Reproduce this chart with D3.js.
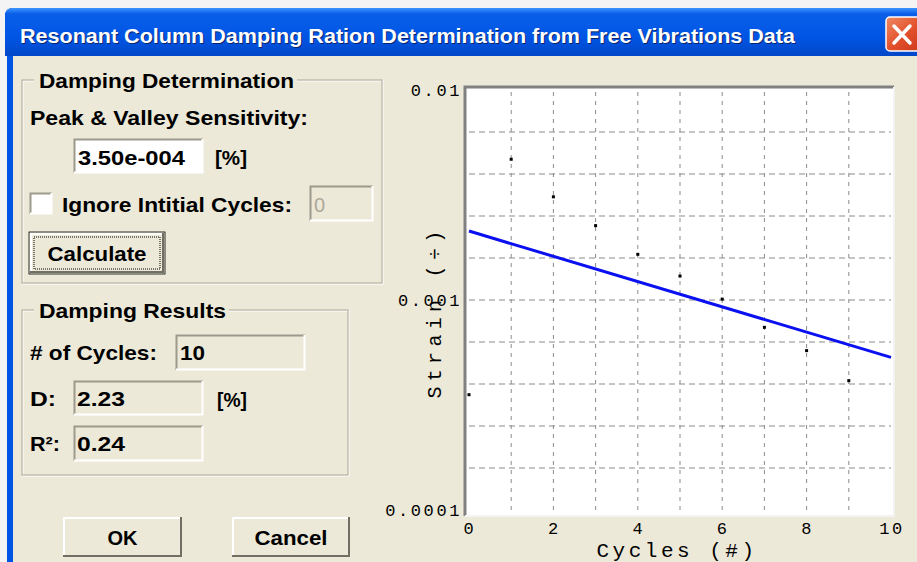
<!DOCTYPE html>
<html>
<head>
<meta charset="utf-8">
<script src="https://cdn.jsdelivr.net/npm/d3@7/dist/d3.min.js"></script>
<style>
body { margin: 0; background: #fff; }
svg { display: block; }
</style>
</head>
<body>
<script>

// free vibration peaks
var cycles = [0, 1, 2, 3, 4, 5, 6, 7, 8, 9];
var strainPeaks = [3.54e-4, 4.68e-3, 3.10e-3, 2.26e-3, 1.65e-3, 1.30e-3, 1.01e-3, 7.41e-4, 5.74e-4, 4.13e-4];

// fitted exponential decay (end points)
var fitCycles = [0, 10];
var fitStrain = [2.13e-3, 5.33e-4];

var xTicks = [0, 2, 4, 6, 8, 10];
var yTicks = [0.01, 0.001, 0.0001];
var yTickLabels = ["0.01", "0.001", "0.0001"];
var xGrid = [1, 2, 3, 4, 5, 6, 7, 8, 9];
var yGridExp = [-2.2, -2.4, -2.6, -2.8, -3, -3.2, -3.4, -3.6, -3.8];

var results = { cycles: "10", D: "2.23", R2: "0.24" };
var sensitivity = "3.50e-004";

var BG = "#ece9d8";
var UIFONT = "'Liberation Sans', Arial, sans-serif";
var MONO = "'Liberation Mono', 'Courier New', monospace";

var svg = d3.select("body").append("svg")
    .attr("width", 917)
    .attr("height", 562);

var defs = svg.append("defs");
var grad = defs.append("linearGradient").attr("id", "titleGrad")
    .attr("x1", 0).attr("y1", 0).attr("x2", 0).attr("y2", 1);
grad.append("stop").attr("offset", "0%").attr("stop-color", "#3d95ff");
grad.append("stop").attr("offset", "12%").attr("stop-color", "#0a5fe8");
grad.append("stop").attr("offset", "60%").attr("stop-color", "#0055e5");
grad.append("stop").attr("offset", "100%").attr("stop-color", "#0148c8");

var closeGrad = defs.append("linearGradient").attr("id", "closeGrad")
    .attr("x1", 0).attr("y1", 0).attr("x2", 1).attr("y2", 1);
closeGrad.append("stop").attr("offset", "0%").attr("stop-color", "#f08a64");
closeGrad.append("stop").attr("offset", "50%").attr("stop-color", "#e2512b");
closeGrad.append("stop").attr("offset", "100%").attr("stop-color", "#c8341a");

// window frame
svg.append("rect").attr("x", 0).attr("y", 0).attr("width", 917).attr("height", 562).attr("fill", "#f4f4f4");
svg.append("path")
    .attr("d", "M5,55 L5,16 Q5,8 13,8 L917,8 L917,562 L7,562 L7,55 Z")
    .attr("fill", "#0055e5");
svg.append("path")
    .attr("d", "M5,55 L5,16 Q5,8 13,8 L917,8 L917,56 L5,56 Z")
    .attr("fill", "url(#titleGrad)");
svg.append("rect").attr("x", 13).attr("y", 56).attr("width", 904).attr("height", 506).attr("fill", BG);

// title
var title = "Resonant Column Damping Ration Determination from Free Vibrations Data";
svg.append("text")
    .attr("x", 21).attr("y", 44)
    .attr("fill", "#0a246a")
    .attr("font-family", UIFONT).attr("font-weight", "bold").attr("font-size", 20)
    .attr("textLength", 775).attr("lengthAdjust", "spacingAndGlyphs")
    .text(title);
svg.append("text")
    .attr("x", 20).attr("y", 43)
    .attr("fill", "#fff")
    .attr("font-family", UIFONT).attr("font-weight", "bold").attr("font-size", 20)
    .attr("textLength", 775).attr("lengthAdjust", "spacingAndGlyphs")
    .text(title);

// close button
svg.append("rect").attr("x", 886).attr("y", 17).attr("width", 40).attr("height", 34)
    .attr("rx", 4).attr("fill", "url(#closeGrad)").attr("stroke", "#fff").attr("stroke-width", 1.5);
svg.append("path").attr("d", "M894,26 L910,43 M910,26 L894,43")
    .attr("stroke", "#fff").attr("stroke-width", 3.5).attr("stroke-linecap", "round");

// helpers
function label(x, y, t, opts) {
    opts = opts || {};
    var el = svg.append("text").attr("x", x).attr("y", y)
        .attr("font-family", UIFONT).attr("font-weight", "bold").attr("font-size", opts.size || 21)
        .attr("fill", opts.fill || "#000").text(t);
    if (opts.anchor) el.attr("text-anchor", opts.anchor);
    if (opts.len) el.attr("textLength", opts.len).attr("lengthAdjust", "spacingAndGlyphs");
    return el;
}

function groupBox(x, y, w, h, t, labelW) {
    svg.append("rect").attr("x", x + 1).attr("y", y + 1).attr("width", w).attr("height", h)
        .attr("fill", "none").attr("stroke", "#fff");
    svg.append("rect").attr("x", x).attr("y", y).attr("width", w).attr("height", h)
        .attr("fill", "none").attr("stroke", "#aca899");
    svg.append("rect").attr("x", x + 12).attr("y", y - 10).attr("width", labelW + 8).attr("height", 20)
        .attr("fill", BG);
    label(x + 17, y + 8, t, { len: labelW });
}

function sunken(x, y, w, h, fill) {
    svg.append("rect").attr("x", x).attr("y", y).attr("width", w).attr("height", h).attr("fill", fill);
    svg.append("path").attr("d", "M" + (x + 0.5) + "," + (y + h) + " L" + (x + 0.5) + "," + (y + 0.5) + " L" + (x + w) + "," + (y + 0.5))
        .attr("fill", "none").attr("stroke", "#9c9a8c").attr("stroke-width", 2);
    svg.append("path").attr("d", "M" + (x + w - 0.5) + "," + y + " L" + (x + w - 0.5) + "," + (y + h - 0.5) + " L" + x + "," + (y + h - 0.5))
        .attr("fill", "none").attr("stroke", "#fff").attr("stroke-width", 2);
}

function button(x, y, w, h, t, len, focused) {
    svg.append("rect").attr("x", x).attr("y", y).attr("width", w).attr("height", h).attr("fill", BG);
    svg.append("path").attr("d", "M" + (x + 1) + "," + (y + h) + " L" + (x + 1) + "," + (y + 1) + " L" + (x + w) + "," + (y + 1))
        .attr("fill", "none").attr("stroke", "#fff").attr("stroke-width", 2);
    svg.append("path").attr("d", "M" + (x + w - 1) + "," + y + " L" + (x + w - 1) + "," + (y + h - 1) + " L" + x + "," + (y + h - 1))
        .attr("fill", "none").attr("stroke", "#716f64").attr("stroke-width", 2);
    if (focused) {
        svg.append("rect").attr("x", x - 1).attr("y", y - 1).attr("width", w + 2).attr("height", h + 2)
            .attr("fill", "none").attr("stroke", "#000").attr("stroke-width", 0.8);
        svg.append("rect").attr("x", x + 4).attr("y", y + 4).attr("width", w - 8).attr("height", h - 8)
            .attr("fill", "none").attr("stroke", "#000").attr("stroke-width", 1).attr("stroke-dasharray", "1,1");
    }
    label(x + (w - len) / 2, y + h / 2 + 8, t, { len: len });
}

// Damping Determination group
groupBox(22, 80, 360, 203, "Damping Determination", 255);
label(30, 125, "Peak & Valley Sensitivity:", { len: 278 });
sunken(74, 139, 129, 34, "#fff");
label(78, 165, sensitivity, { len: 107 });
label(215, 165, "[%]", { len: 32 });

sunken(30, 193, 22, 21, "#fff");
label(62, 212, "Ignore Intitial Cycles:", { len: 230 });
sunken(310, 186, 63, 35, BG);
label(314, 212, "0", { fill: "#aca899", size: 20 }).attr("font-weight", "normal");

button(30, 233, 134, 40, "Calculate", 99, true);

// Damping Results group
groupBox(22, 310, 326, 165, "Damping Results", 187);
label(30, 360, "# of Cycles:", { len: 127 });
sunken(176, 335, 129, 35, BG);
label(180, 360, results.cycles, { len: 25 });

label(30, 406, "D:", { len: 26 });
sunken(74, 381, 129, 34, BG);
label(77, 406, results.D, { len: 48 });
label(217, 407, "[%]", { len: 30 });

label(30, 451, "R\u00b2:", { len: 30 });
sunken(74, 426, 129, 35, BG);
label(77, 451, results.R2, { len: 48 });

button(63, 517, 119, 40, "OK", 30, false);
button(232, 517, 118, 40, "Cancel", 73, false);

// ---- chart ----
var x = d3.scaleLinear().domain([0, 10]).range([469, 891]);
var y = d3.scaleLog().domain([1e-4, 1e-2]).range([510, 90]);

var plot = svg.append("g");
plot.append("rect").attr("x", 465).attr("y", 87).attr("width", 429).attr("height", 429)
    .attr("fill", "#fff");
// sunken frame
plot.append("path").attr("d", "M465,516 L465,87 L894,87")
    .attr("fill", "none").attr("stroke", "#808080").attr("stroke-width", 3);
plot.append("path").attr("d", "M894,87 L894,516 L465,516")
    .attr("fill", "none").attr("stroke", "#f3f3f3").attr("stroke-width", 2);

plot.selectAll(".vgrid").data(xGrid).enter().append("line")
    .attr("class", "vgrid")
    .attr("x1", function(d){ return x(d); }).attr("x2", function(d){ return x(d); })
    .attr("y1", 92).attr("y2", 512)
    .attr("stroke", "#8a8a8a").attr("stroke-width", 1).attr("stroke-dasharray", "4,5");

plot.selectAll(".hgrid").data(yGridExp).enter().append("line")
    .attr("class", "hgrid")
    .attr("y1", function(d){ return y(Math.pow(10, d)); }).attr("y2", function(d){ return y(Math.pow(10, d)); })
    .attr("x1", 469).attr("x2", 891)
    .attr("stroke", "#8a8a8a").attr("stroke-width", 1).attr("stroke-dasharray", "6,4");

// fitted line
var line = d3.line()
    .x(function(d){ return x(d[0]); })
    .y(function(d){ return y(d[1]); });
plot.append("path")
    .datum(d3.zip(fitCycles, fitStrain))
    .attr("d", line)
    .attr("fill", "none").attr("stroke", "#0a10f0").attr("stroke-width", 3);

// peaks
plot.selectAll(".pt").data(d3.zip(cycles, strainPeaks)).enter().append("rect")
    .attr("class", "pt")
    .attr("x", function(d){ return x(d[0]) - 1.5; })
    .attr("y", function(d){ return y(d[1]) - 1.5; })
    .attr("width", 3).attr("height", 3)
    .attr("fill", "#000");

// tick labels
svg.selectAll(".ytl").data(yTicks).enter().append("text")
    .attr("class", "ytl")
    .attr("x", 462).attr("y", function(d){ return y(d) + 6; })
    .attr("text-anchor", "end")
    .attr("font-family", MONO).attr("font-size", 17).attr("letter-spacing", 2.6)
    .attr("fill", "#000")
    .text(function(d, i){ return yTickLabels[i]; });

svg.selectAll(".xtl").data(xTicks).enter().append("text")
    .attr("class", "xtl")
    .attr("x", function(d){ return x(d) + 1; }).attr("y", 534)
    .attr("text-anchor", "middle")
    .attr("font-family", MONO).attr("font-size", 17).attr("letter-spacing", 2.6)
    .attr("fill", "#000")
    .text(function(d){ return d; });

// axis titles
svg.append("text")
    .attr("x", 677).attr("y", 557)
    .attr("text-anchor", "middle")
    .attr("font-family", MONO).attr("font-size", 21).attr("letter-spacing", 3.5)
    .attr("fill", "#000")
    .text("Cycles (#)");

svg.append("text")
    .attr("transform", "translate(441,312) rotate(-90)")
    .attr("text-anchor", "middle")
    .attr("font-family", MONO).attr("font-size", 20).attr("letter-spacing", 5.3)
    .attr("fill", "#000")
    .text("Strain (\u00f7)");

</script>
</body>
</html>
